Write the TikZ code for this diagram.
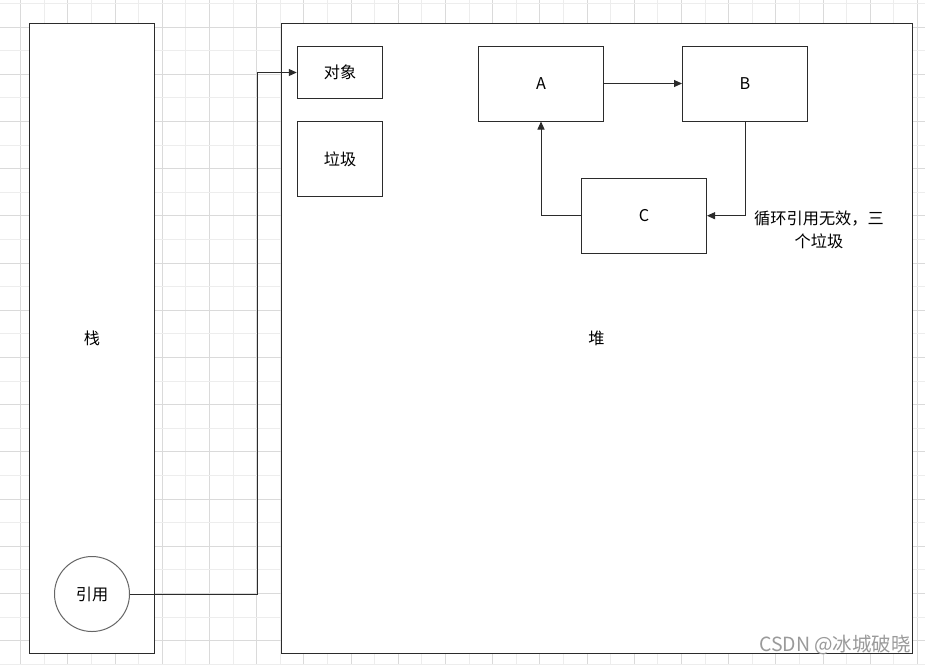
\documentclass[tikz,border=0pt]{standalone}
\usepackage{fontspec}
\setmainfont{Noto Sans CJK SC}
\usetikzlibrary{arrows.meta,positioning}
\definecolor{GridDark}{HTML}{DADADA}
\definecolor{GridLight}{HTML}{EDEDED}
\definecolor{LineInk}{HTML}{2B2B2B}
\definecolor{CircleInk}{HTML}{666666}
\definecolor{MarkGray}{HTML}{9A9A9A}

\begin{document}
\begin{tikzpicture}[x=1pt,y=-1pt,line width=1pt,draw=LineInk,
    font=\fontsize{16.2}{23}\selectfont,
    region/.style={draw=LineInk,fill=white,inner sep=0pt},
    objbox/.style={draw=LineInk,fill=white,inner sep=0pt},
    arr/.style={draw=LineInk,-{Triangle[length=8pt,width=7pt]}}]
  \useasboundingbox (0,0) rectangle (925,665);

  % background grid
  \foreach \k in {0,...,19} \draw[GridDark] ({20.7+47.2*\k},0) -- ++(0,665);
  \foreach \k in {0,...,18} \draw[GridLight] ({44.3+47.2*\k},0) -- ++(0,665);
  \foreach \k in {0,...,13} \draw[GridDark] (0,{27.1+47.2*\k}) -- ++(925,0);
  \foreach \k in {0,...,14} \draw[GridLight] (0,{3.5+47.2*\k}) -- ++(925,0);

  % stack and heap
  \node[region,minimum width=125pt,minimum height=630pt,text depth=-6pt] (stack) at (92,338) {栈};
  \node[region,minimum width=631pt,minimum height=630pt,text depth=-6pt] (heap) at (596.5,338) {堆};

  \node[objbox,minimum width=85.5pt,minimum height=52pt] (obj) at (340,72.5) {对象};
  \node[objbox,minimum width=85.5pt,minimum height=74.5pt] (junk) at (340,158.8) {垃圾};

  \node[objbox,minimum width=125pt,minimum height=75pt] (A) at (541,83.5) {A};
  \node[objbox,minimum width=125pt,minimum height=75pt] (B) at (745,83.5) {B};
  \node[objbox,minimum width=125pt,minimum height=75pt] (C) at (644,215.7) {C};

  \node[circle,draw=CircleInk,fill=white,minimum size=75pt,inner sep=0pt] (ref) at (92,594) {引用};

  \node[align=center,text width=140pt] (note) at (819,230) {循环引用无效，三\\个垃圾};
  \node[text=MarkGray,font=\fontsize{19.5}{22}\selectfont] (mark) at (835,645) {CSDN @冰城破晓};

  % connectors
  \coordinate (turn) at (257,0);
  \draw[arr] (ref.east) -- (ref.east -| turn) |- (obj.west);
  \draw[arr] (A) -- (B);
  \draw[arr] (B.south) |- (C.east);
  \draw[arr] (C.west) -| (A.south);
\end{tikzpicture}
\end{document}
